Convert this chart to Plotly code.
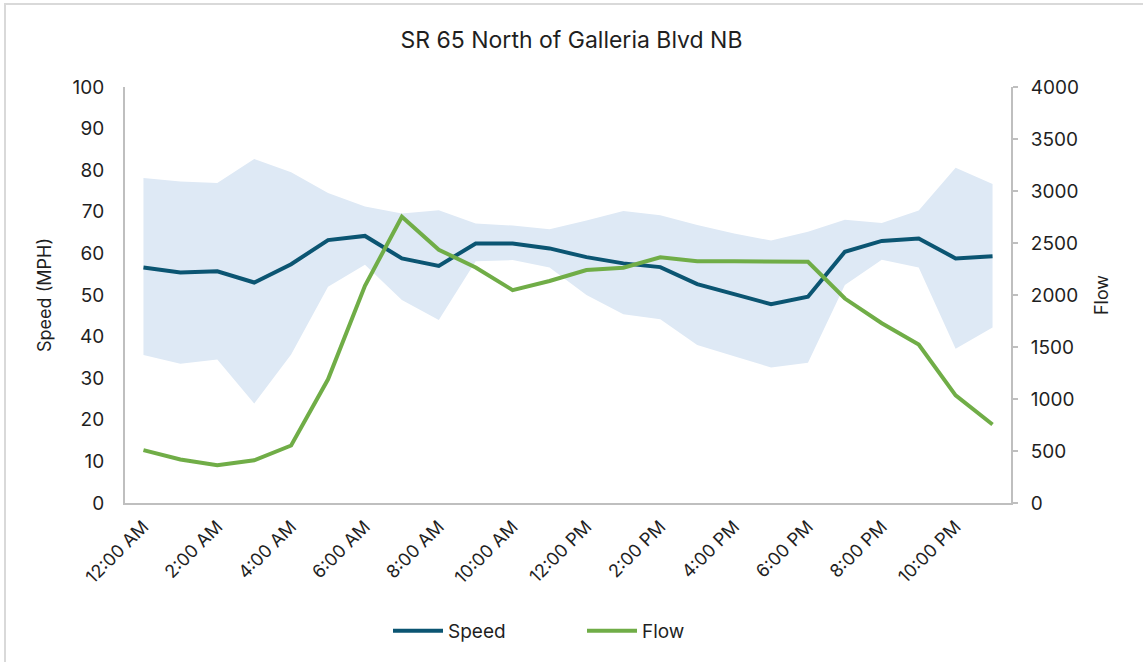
import plotly.graph_objects as go

hours = list(range(24))
hour_labels = ["12:00 AM", "1:00 AM", "2:00 AM", "3:00 AM", "4:00 AM", "5:00 AM",
               "6:00 AM", "7:00 AM", "8:00 AM", "9:00 AM", "10:00 AM", "11:00 AM",
               "12:00 PM", "1:00 PM", "2:00 PM", "3:00 PM", "4:00 PM", "5:00 PM",
               "6:00 PM", "7:00 PM", "8:00 PM", "9:00 PM", "10:00 PM", "11:00 PM"]
tick_hours = hours[::2]
tick_labels = hour_labels[::2]

speed = [56.6, 55.4, 55.7, 53.0, 57.4, 63.2, 64.2, 58.8, 57.0, 62.4, 62.4, 61.2,
         59.1, 57.6, 56.7, 52.6, 50.2, 47.8, 49.6, 60.4, 63.0, 63.6, 58.8, 59.3]
speed_low = [35.6, 33.5, 34.5, 23.9, 35.7, 52.0, 57.3, 48.8, 44.0, 58.1, 58.4, 56.6,
             50.0, 45.4, 44.2, 38.0, 35.3, 32.6, 33.7, 52.4, 58.5, 56.6, 37.1, 42.2]
speed_high = [78.1, 77.3, 76.9, 82.7, 79.5, 74.5, 71.3, 69.6, 70.4, 67.2, 66.7, 65.8,
              67.9, 70.2, 69.2, 66.8, 64.8, 63.1, 65.2, 68.1, 67.3, 70.3, 80.6, 76.7]
flow = [508, 418, 363, 411, 553, 1189, 2088, 2753, 2435, 2265, 2047, 2135,
        2240, 2262, 2362, 2324, 2324, 2322, 2320, 1966, 1729, 1523, 1035, 755]

FONT = "Inter"
TXT = "#1f1f1f"
AX = "#bfbfbf"

L, R, T, B = 125, 132, 87, 159
W, H = 1143, 662
pw, ph = W - L - R, H - T - B

fig = go.Figure()
fig.add_trace(go.Scatter(x=hours, y=speed_low, mode="lines", line=dict(width=0, color="rgba(0,0,0,0)"),
                         showlegend=False, hoverinfo="skip"))
fig.add_trace(go.Scatter(x=hours, y=speed_high, mode="lines", line=dict(width=0, color="rgba(0,0,0,0)"),
                         fill="tonexty", fillcolor="#dee9f5", showlegend=False, hoverinfo="skip"))
fig.add_trace(go.Scatter(x=hours, y=speed, mode="lines", name="Speed", legend="legend",
                         line=dict(color="#0b5572", width=4)))
fig.add_trace(go.Scatter(x=hours, y=flow, mode="lines", name="Flow", yaxis="y2", legend="legend2",
                         line=dict(color="#70ad47", width=4)))

leg_y = (H - B - 631) / ph
fig.update_layout(
    width=W, height=H,
    margin=dict(l=L, r=R, t=T, b=B),
    paper_bgcolor="white", plot_bgcolor="white",
    font=dict(family=FONT, color=TXT, size=17),
    title=dict(text="SR 65 North of Galleria Blvd NB", x=0.5, xanchor="center",
               y=1 - 40 / H, yanchor="middle", font=dict(size=23, color=TXT, family=FONT)),
    xaxis=dict(range=[-0.5, 23.5], tickmode="array", tickvals=tick_hours, ticktext=tick_labels,
               tickangle=-45, showgrid=False, zeroline=False, showline=True, linecolor=AX,
               linewidth=2, ticks="", tickfont=dict(size=18), ticklabelstandoff=4),
    yaxis=dict(range=[0, 100], dtick=10, showgrid=False, zeroline=False, showline=True,
               linecolor=AX, linewidth=2, ticks="", tickfont=dict(size=19),
               ticklabelstandoff=15,
               title=dict(text="Speed (MPH)", font=dict(size=18), standoff=16)),
    yaxis2=dict(range=[0, 4000], dtick=500, overlaying="y", side="right", showgrid=False,
                zeroline=False, showline=True, linecolor=AX, linewidth=2, ticks="outside",
                ticklen=5, tickcolor=AX, tickwidth=2, tickfont=dict(size=19),
                ticklabelstandoff=9,
                title=dict(text="Flow", font=dict(size=18), standoff=17)),
    legend=dict(orientation="h", x=(388 - L) / pw, xanchor="left", y=leg_y,
                yanchor="middle", font=dict(size=19), itemwidth=50, bgcolor="rgba(0,0,0,0)"),
    legend2=dict(orientation="h", x=(582 - L) / pw, xanchor="left", y=leg_y,
                 yanchor="middle", font=dict(size=19), itemwidth=50, bgcolor="rgba(0,0,0,0)"),
    shapes=[dict(type="rect", xref="paper", yref="paper",
                 x0=(5 - L) / pw, x1=(W + 3 - L) / pw,
                 y0=(H - B - (H + 3)) / ph, y1=(H - B - 4) / ph,
                 line=dict(color="#d9d9d9", width=2), fillcolor="rgba(0,0,0,0)", layer="below")],
)

fig.write_html("out.html", config={"displayModeBar": False},
               post_script="document.body.style.margin='0';document.body.style.overflow='hidden';")
